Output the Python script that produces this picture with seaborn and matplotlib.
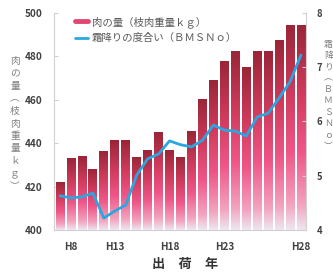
import numpy as np
import pandas as pd
import matplotlib
matplotlib.use("Agg")
import matplotlib.pyplot as plt
import seaborn as sns
from matplotlib.colors import LinearSegmentedColormap
from matplotlib.lines import Line2D

# 出荷年ごとの値（23本）
period = list(range(23))
meat_kg = [422, 433, 434, 428, 436, 441, 441, 433.5, 436.5, 445, 436.5, 433.5, 445.5,
           460, 469, 477.5, 482, 475, 482, 482, 487, 494, 494]
bms = [4.63, 4.59, 4.61, 4.68, 4.22, 4.35, 4.46, 5.01, 5.31, 5.40, 5.64, 5.57, 5.53,
       5.65, 5.93, 5.84, 5.82, 5.73, 6.08, 6.15, 6.43, 6.73, 7.22]
tick_at = [1, 5, 10, 15, 22]
tick_labels = ["H8", "H13", "H18", "H23", "H28"]
left_ticks = [400, 420, 440, 460, 480, 500]
right_ticks = [4, 5, 6, 7, 8]
legend_labels = ["肉の量（枝肉重量ｋｇ）", "霜降りの度合い（ＢＭＳＮｏ）"]
left_title = list("肉の量︵枝肉重量ｋｇ︶")
right_title = list("霜降り︵ＢＭＳＮｏ︶")
xlabel = "出　荷　年"

sns.set_style("white")
plt.rcParams['font.family'] = ['Noto Sans CJK JP', 'DejaVu Sans']

df = pd.DataFrame({"period": period, "meat": meat_kg, "bms": bms})

W, H = 333, 274
fig = plt.figure(figsize=(W / 100, H / 100), dpi=100)
ax = fig.add_axes([54 / W, 1 - 230 / H, 252 / W, 217.3 / H])

sns.barplot(data=df, x="period", y="meat", ax=ax, width=0.8, color="#c03050",
            saturation=1)

ymin, ymax = 400, 500
bar_cmap = LinearSegmentedColormap.from_list(
    "meat", [(0.0, "#ede7f1"), (0.12, "#f3a4bf"), (0.38, "#ef5688"),
             (0.65, "#d23c5e"), (1.0, "#9b2537")])
grad = np.linspace(0, 1, 256).reshape(-1, 1)
for p in ax.patches:
    x0 = p.get_x()
    w = p.get_width()
    top = p.get_y() + p.get_height()
    p.set_visible(False)
    ax.imshow(grad, cmap=bar_cmap, origin="lower", aspect="auto",
              extent=(x0, x0 + w, ymin, top), zorder=2)

ax.set_xlim(-0.55, 22.46)
ax.set_ylim(ymin, ymax)
ax.set_yticks(left_ticks)
ax.set_xticks(tick_at)
ax.set_xticklabels(tick_labels)
ax.set_xlabel("")
ax.set_ylabel("")

ax2 = ax.twinx()
sns.lineplot(data=df, x="period", y="bms", ax=ax2, color="#2aa7df", linewidth=2.0)
ax2.set_ylim(4, 8)
ax2.set_yticks(right_ticks)
ax2.set_xlim(-0.55, 22.46)
ax2.set_ylabel("")

gray = "#d0d0d0"
for a in (ax, ax2):
    for s in a.spines.values():
        s.set_visible(False)
ax.spines["left"].set_visible(True)
ax.spines["left"].set_color(gray)
ax.spines["bottom"].set_visible(True)
ax.spines["bottom"].set_color(gray)
ax2.spines["right"].set_visible(True)
ax2.spines["right"].set_color(gray)

ax.tick_params(axis="y", direction="in", length=3, color=gray, pad=8,
               labelsize=7.2, labelcolor="#404040")
ax.tick_params(axis="x", length=0, pad=9, labelsize=7.2, labelcolor="#404040")
ax2.tick_params(axis="y", direction="in", length=3, color=gray, pad=7.5,
                labelsize=6.8, labelcolor="#404040")
for t in ax.get_yticklabels() + ax.get_xticklabels() + ax2.get_yticklabels():
    t.set_fontweight("bold")

handles = [Line2D([], [], color="#e04870", linewidth=3.5),
           Line2D([], [], color="#2aa7df", linewidth=2.0)]
ax2.legend(handles, legend_labels, loc="upper left",
           bbox_to_anchor=(75 / W, 1 - 16 / H), bbox_transform=fig.transFigure,
           frameon=False, fontsize=7.5, handlelength=1.25, handletextpad=0.35,
           borderpad=0, borderaxespad=0, labelspacing=0.55, labelcolor="#595959")

# 縦書きの軸タイトル
for i, ch in enumerate(left_title):
    fig.text(15 / W, 1 - (61 + 12.5 * i) / H, ch, ha="center", va="center",
             fontsize=7, color="#808080")
for i, ch in enumerate(right_title):
    fig.text(328.5 / W, 1 - (44 + 11.4 * i) / H, ch, ha="center", va="center",
             fontsize=6.4, color="#808080")

fig.text(185 / W, 1 - 264 / H, xlabel, ha="center", va="center", fontsize=9.5,
         fontweight="bold", color="#333333")

fig.savefig("out.png", dpi=100)
